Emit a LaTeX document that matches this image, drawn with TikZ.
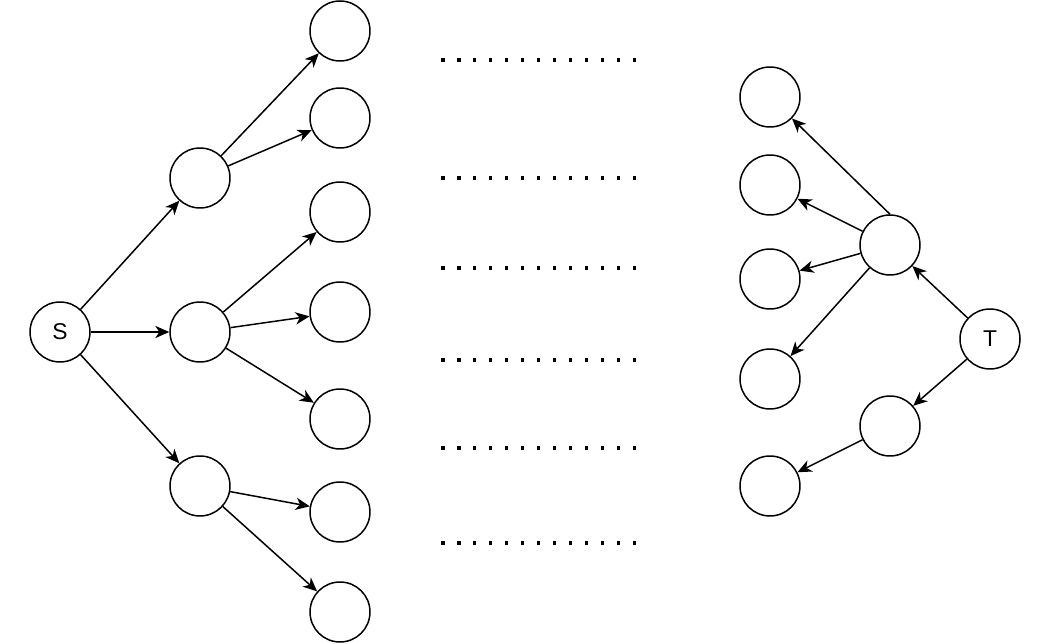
\documentclass[tikz,border=0pt]{standalone}
\usepackage{fontspec}
\setmainfont{Liberation Sans}
\usetikzlibrary{positioning}
\usetikzlibrary{arrows.meta}

\begin{document}
\begin{tikzpicture}[x=0.02cm, y=-0.02cm,
  vertex/.style={circle, draw, line width=0.85pt, minimum size=1.2cm, inner sep=0pt, font=\fontsize{13}{15}\selectfont},
  edge/.style={-{Stealth[length=8pt, width=7pt, inset=2.4pt]}, line width=0.85pt},
  dots/.style={line width=2pt, dash pattern=on 2pt off 7.1pt}]

\useasboundingbox (0,0) rectangle (1052,644);

\node[vertex] (S) at (60,332) {S};
\node[vertex] (T) at (990,339) {T};

\node[vertex] (a1) at (200,178) {};
\node[vertex] (a2) at (200,332) {};
\node[vertex] (a3) at (200,486) {};

\node[vertex] (b1) at (340,31) {};
\node[vertex] (b2) at (340,118) {};
\node[vertex] (b3) at (340,212) {};
\node[vertex] (b4) at (340,312) {};
\node[vertex] (b5) at (340,419) {};
\node[vertex] (b6) at (340,512) {};
\node[vertex] (b7) at (340,612) {};

\node[vertex] (c1) at (770,97) {};
\node[vertex] (c2) at (770,185) {};
\node[vertex] (c3) at (770,279) {};
\node[vertex] (c4) at (770,379) {};
\node[vertex] (c5) at (770,486) {};

\node[vertex] (d1) at (890,245) {};
\node[vertex] (d2) at (890,426) {};

% dotted rows
\foreach \y/\n in {60/1,178/2,268/3,360/4,448/5,543/6} {
  \coordinate (l\n) at (441,\y);
  \coordinate (r\n) at (640,\y);
  \draw[dots] (l\n) -- (r\n);
}

\draw[edge] (S) -- (a1);
\draw[edge] (S) -- (a2);
\draw[edge] (S) -- (a3);

\draw[edge] (a1) -- (b1);
\draw[edge] (a1) -- (b2);
\draw[edge] (a2) -- (b3);
\draw[edge] (a2) -- (b4);
\draw[edge] (a2) -- (b5);
\draw[edge] (a3) -- (b6);
\draw[edge] (a3) -- (b7);

\draw[edge] (d1.north) -- (c1);
\draw[edge] (d1) -- (c2);
\draw[edge] (d1) -- (c3);
\draw[edge] (d1) -- (c4);
\draw[edge] (T) -- (d1);
\draw[edge] (T) -- (d2);
\draw[edge] (d2) -- (c5);

\end{tikzpicture}
\end{document}
